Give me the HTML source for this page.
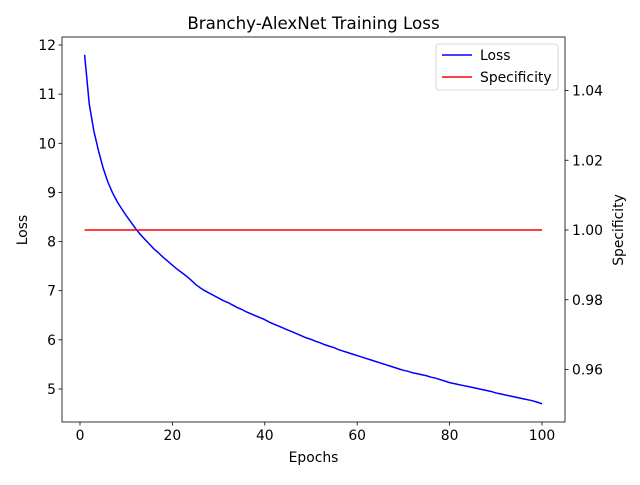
<!DOCTYPE html>
<html><head><meta charset="utf-8"><style>
body{margin:0;background:#fff}
svg text{font-family:"DejaVu Sans","Liberation Sans",sans-serif;fill:#000}
</style></head><body>
<svg id="chart" width="640" height="480" xmlns="http://www.w3.org/2000/svg"></svg>
<script>
const epochs = Array.from({length:100},(_,i)=>i+1);
const lossValues = [11.80,10.80,10.25,9.85,9.50,9.22,9.00,8.82,8.67,8.53,
8.40,8.27,8.15,8.05,7.95,7.85,7.77,7.68,7.60,7.52,
7.44,7.37,7.30,7.22,7.13,7.06,7.00,6.95,6.90,6.85,
6.80,6.76,6.71,6.66,6.62,6.57,6.53,6.49,6.45,6.41,
6.36,6.32,6.28,6.24,6.20,6.16,6.12,6.08,6.04,6.01,
5.97,5.94,5.90,5.87,5.84,5.80,5.77,5.74,5.71,5.68,
5.65,5.62,5.59,5.56,5.53,5.50,5.47,5.44,5.41,5.38,
5.36,5.33,5.31,5.29,5.27,5.24,5.22,5.19,5.16,5.13,
5.11,5.09,5.07,5.05,5.03,5.01,4.99,4.97,4.95,4.92,
4.90,4.88,4.86,4.84,4.82,4.80,4.78,4.76,4.73,4.70];
const specValues = new Array(100).fill(1.0);
const xTicks = [0,20,40,60,80,100];
const yTicks = [5,6,7,8,9,10,11,12];
const y2Ticks = [0.96,0.98,1.00,1.02,1.04];

const svg = document.getElementById('chart');
const NS='http://www.w3.org/2000/svg';
const L=62,R=565,T=37,B=422;
const xs=v=>80+(v-0)*(542-80)/100;
const ys=v=>389-(v-5)*(389-45)/7;
const y2s=v=>230-(v-1.0)*(69.75/0.02);
function mk(tag,attrs,parent){const e=document.createElementNS(NS,tag);for(const k in attrs)e.setAttribute(k,attrs[k]);(parent||svg).appendChild(e);return e;}
function txt(s,attrs){const e=mk('text',attrs);e.textContent=s;return e;}

const lossPts=epochs.map((x,i)=>xs(x).toFixed(2)+','+ys(lossValues[i]).toFixed(2)).join(' ');
const lossLine=mk('polyline',{points:lossPts,fill:'none',stroke:'#0000ff','stroke-width':1.5});


const specPts=epochs.map((x,i)=>xs(x).toFixed(2)+','+y2s(specValues[i]).toFixed(2)).join(' ');
const specLine=mk('polyline',{points:specPts,fill:'none',stroke:'#ff0000','stroke-width':1.5});



const fr=mk('rect',{x:L,y:T,width:R-L,height:B-T,fill:'none',stroke:'#000','stroke-width':0.8});



xTicks.forEach(v=>{const x=xs(v);mk('line',{x1:x,x2:x,y1:B,y2:B+3.5,stroke:'#000','stroke-width':0.8});
const t=txt(String(v),{x:x,y:B+18,'font-size':13.9,'text-anchor':'middle'});

});
yTicks.forEach(v=>{const y=ys(v);mk('line',{x1:L-3.5,x2:L,y1:y,y2:y,stroke:'#000','stroke-width':0.8});
const t=txt(String(v),{x:L-6,y:y+5,'font-size':13.9,'text-anchor':'end'});

});
y2Ticks.forEach(v=>{const y=y2s(v);mk('line',{x1:R,x2:R+3.5,y1:y,y2:y,stroke:'#000','stroke-width':0.8});
const t=txt(v.toFixed(2),{x:R+7,y:y+5,'font-size':13.9,'text-anchor':'start'});

});

const tt=txt('Branchy-AlexNet Training Loss',{x:313.5,y:29,'font-size':16.7,'text-anchor':'middle'});


const xl=txt('Epochs',{x:313.5,y:462,'font-size':13.9,'text-anchor':'middle'});


const yl=txt('Loss',{x:0,y:0,'font-size':13.9,'text-anchor':'middle',transform:'translate(27,230) rotate(-90)'});


const y2l=txt('Specificity',{x:0,y:0,'font-size':13.9,'text-anchor':'middle',transform:'translate(623,230) rotate(-90)'});



const lg=mk('g',{});


mk('rect',{x:436,y:44,width:122,height:46,rx:3,fill:'#fff','fill-opacity':0.8,stroke:'#ccc','stroke-width':0.8},lg);
mk('line',{x1:442,x2:472,y1:55,y2:55,stroke:'#0000ff','stroke-width':1.5},lg);
mk('line',{x1:442,x2:472,y1:77,y2:77,stroke:'#ff0000','stroke-width':1.5},lg);
const l1=mk('text',{x:480,y:60,'font-size':13.9},lg);l1.textContent='Loss';


const l2=mk('text',{x:480,y:82,'font-size':13.9},lg);l2.textContent='Specificity';


</script>
</body></html>
